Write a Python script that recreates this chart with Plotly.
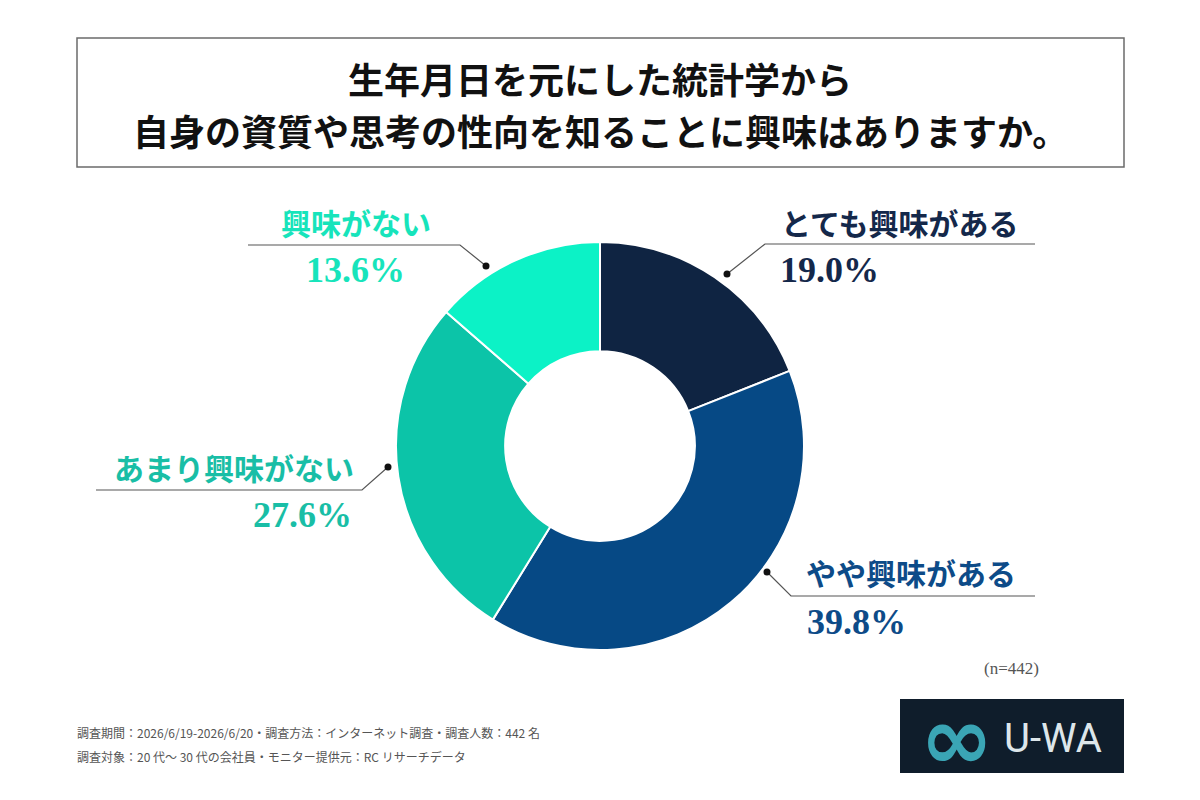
import plotly.graph_objects as go

categories = ["とても興味がある", "やや興味がある", "あまり興味がない", "興味がない"]
values = [19.0, 39.8, 27.6, 13.6]
slice_colors = ["#0f2442", "#064985", "#0cc4a8", "#0cf2c6"]
label_colors = ["#14284a", "#0d4b88", "#19bea6", "#17e4bb"]

title_lines = ["生年月日を元にした統計学から", "自身の資質や思考の性向を知ることに興味はありますか。"]
footer_lines = [
    "調査期間：2026/6/19-2026/6/20・調査方法：インターネット調査・調査人数：442 名",
    "調査対象：20 代〜 30 代の会社員・モニター提供元：RC リサーチデータ",
]
n_note = "(n=442)"

JP = "Noto Sans CJK JP"
SERIF = "Liberation Serif"

W, H = 1200, 800


def px(x):
    return x / W


def py(y):
    return 1 - y / H


fig = go.Figure()
fig.add_trace(go.Pie(
    labels=categories,
    values=values,
    sort=False,
    direction="clockwise",
    rotation=0,
    hole=0.465,
    marker=dict(colors=slice_colors, line=dict(color="white", width=2)),
    textinfo="none",
    showlegend=False,
    domain=dict(x=[px(396), px(804)], y=[py(650), py(242)]),
))

shapes = []
annotations = []

# title box
shapes.append(dict(type="rect", xref="paper", yref="paper",
                   x0=px(77), x1=px(1124), y0=py(167), y1=py(38),
                   line=dict(color="#6b6b6b", width=1.5)))
for i, t in enumerate(title_lines):
    annotations.append(dict(text=f"<b>{t}</b>", x=0.5, y=py([78, 130][i]), xref="paper", yref="paper",
                            xanchor="center", yanchor="middle", showarrow=False,
                            font=dict(family=JP, size=36, color="#111111")))

# label leaders: (dot, elbow, line_end)
leaders = [
    dict(dot=(727, 274), elbow=(765, 244), end=(1035, 244)),
    dict(dot=(767, 572), elbow=(791, 596), end=(1035, 596)),
    dict(dot=(388, 467), elbow=(362, 490), end=(96, 490)),
    dict(dot=(486, 266), elbow=(460, 245), end=(248, 245)),
]
label_pos = [
    dict(lx=779, ly=222, la="left", vx=778, vy=270, va="left"),
    dict(lx=804, ly=572, la="left", vx=805, vy=622, va="left"),
    dict(lx=356, ly=467, la="right", vx=354, vy=515, va="right"),
    dict(lx=356, ly=222, la="center", vx=355, vy=270, va="center"),
]
for i, (cat, val) in enumerate(zip(categories, values)):
    L = leaders[i]
    (dx, dy), (ex, ey), (fx, fy) = L["dot"], L["elbow"], L["end"]
    shapes.append(dict(type="path", xref="paper", yref="paper",
                       path=f"M {px(dx)} {py(dy)} L {px(ex)} {py(ey)} L {px(fx)} {py(fy)}",
                       line=dict(color="#555555", width=1.2)))
    shapes.append(dict(type="circle", xref="paper", yref="paper",
                       x0=px(dx - 3.5), x1=px(dx + 3.5), y0=py(dy + 3.5), y1=py(dy - 3.5),
                       fillcolor="#111111", line=dict(width=0)))
    P = label_pos[i]
    annotations.append(dict(text=f"<b>{cat}</b>", x=px(P["lx"]), y=py(P["ly"]), xref="paper", yref="paper",
                            xanchor=P["la"], yanchor="middle", showarrow=False,
                            font=dict(family=JP, size=30, color=label_colors[i])))
    annotations.append(dict(text=f"<b>{val:.1f}%</b>", x=px(P["vx"]), y=py(P["vy"]), xref="paper", yref="paper",
                            xanchor=P["va"], yanchor="middle", showarrow=False,
                            font=dict(family=SERIF, size=36, color=label_colors[i])))

# n note
annotations.append(dict(text=n_note, x=px(1041), y=py(668), xref="paper", yref="paper",
                        xanchor="right", yanchor="middle", showarrow=False,
                        font=dict(family=SERIF, size=17, color="#555555")))

# footer
for i, t in enumerate(footer_lines):
    annotations.append(dict(text=t, x=px(75), y=py([732, 756][i]), xref="paper", yref="paper",
                            xanchor="left", yanchor="middle", showarrow=False,
                            font=dict(family=JP, size=12, color="#555555")))

# logo
shapes.append(dict(type="rect", xref="paper", yref="paper",
                   x0=px(900), x1=px(1124), y0=py(773), y1=py(699),
                   fillcolor="#0f1d2b", line=dict(width=0)))
annotations.append(dict(text="<b>∞</b>", x=px(956), y=py(738), xref="paper", yref="paper",
                        xanchor="center", yanchor="middle", showarrow=False,
                        font=dict(family="DejaVu Sans", size=88, color="#3aa5b5")))
annotations.append(dict(text="U-WA", x=px(1053), y=py(738), xref="paper", yref="paper",
                        xanchor="center", yanchor="middle", showarrow=False,
                        font=dict(family="Roboto", size=40, color="#dde6ea")))

fig.update_layout(
    width=W, height=H,
    margin=dict(l=0, r=0, t=0, b=0),
    paper_bgcolor="white", plot_bgcolor="white",
    shapes=shapes, annotations=annotations,
)

fig.write_html("out.html")
